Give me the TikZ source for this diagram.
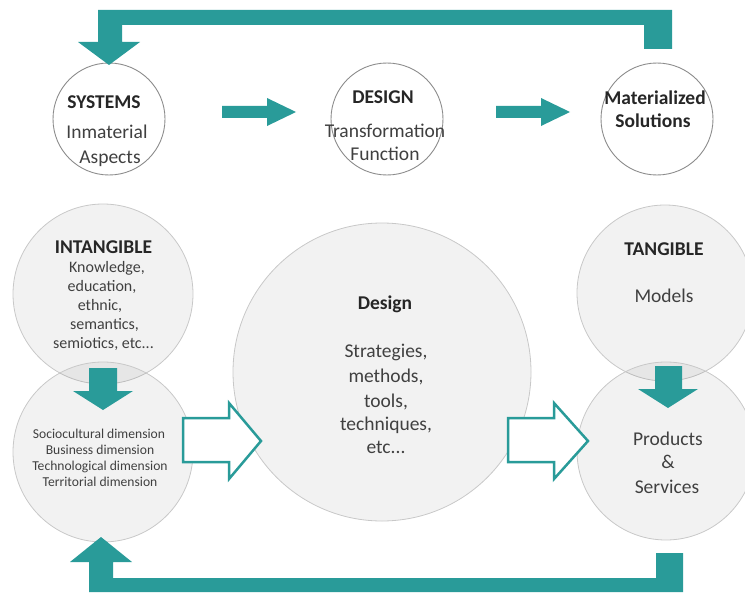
\documentclass[tikz,border=0pt]{standalone}
\usepackage{fontspec}
\setmainfont{Carlito}
\definecolor{teal1}{RGB}{41,155,153}
\definecolor{txtb}{RGB}{38,38,38}
\definecolor{txtr}{RGB}{64,64,64}
\definecolor{topline}{RGB}{140,140,140}
\definecolor{botline}{RGB}{200,200,200}
\begin{document}
\begin{tikzpicture}[x=1pt,y=-1pt,
  topcirc/.style={circle, draw=topline, line width=0.9pt, fill=white, inner sep=0pt, minimum size=112pt},
  botcirc/.style={circle, draw=botline, line width=0.8pt, fill=black, fill opacity=0.05, draw opacity=1, inner sep=0pt},
  bigtxt/.style={font=\fontsize{19.5}{23}\selectfont, text=txtr, anchor=base, inner sep=0pt},
  boldtxt/.style={font=\fontsize{19.5}{23}\selectfont\bfseries, text=txtb, anchor=base, inner sep=0pt},
  listtxt/.style={font=\fontsize{16}{19}\selectfont, text=txtr, anchor=base, inner sep=0pt},
  dimtxt/.style={font=\fontsize{13.6}{16}\selectfont, text=txtr, anchor=base, inner sep=0pt},
  solidarrow/.style={fill=teal1},
  hollowarrow/.style={draw=teal1, line width=2.5pt, fill=white, line join=miter}
]
\useasboundingbox (0,0) rectangle (745,594);
\clip (0,0) rectangle (745,594);

% bottom circles
\node[botcirc, minimum size=180pt] (intang) at (103,294) {};
\node[botcirc, minimum size=180pt] (dims) at (103,452) {};
\node[botcirc, minimum size=298pt] (design) at (382,372) {};
\node[botcirc, minimum size=176pt] (tang) at (665,293) {};
\node[botcirc, minimum size=178pt] (prod) at (666,451) {};

% top circles
\node[topcirc] (sys) at (109,119) {};
\node[topcirc] (des) at (387,119) {};
\node[topcirc] (mat) at (657,119) {};

% feedback arrows
\fill[solidarrow] (644,49) -- (672,49) -- (672,10) -- (98,10) -- (98,42) -- (78,42)
  -- (109,65) -- (140,42) -- (122,42) -- (122,25) -- (644,25) -- cycle;
\fill[solidarrow] (656,553) -- (683,553) -- (683,592) -- (89,592) -- (89,562) -- (70,562)
  -- (101,537) -- (132,562) -- (113,562) -- (113,578) -- (656,578) -- cycle;

% top small arrows
\fill[solidarrow] (222,106) -- (267,106) -- (267,98) -- (296,112) -- (267,126) -- (267,118) -- (222,118) -- cycle;
\fill[solidarrow] (496,106) -- (541,106) -- (541,98) -- (570,112) -- (541,126) -- (541,118) -- (496,118) -- cycle;

% down arrows
\fill[solidarrow] (89,368) -- (117,368) -- (117,391) -- (133,391) -- (103,410) -- (73,391) -- (89,391) -- cycle;
\fill[solidarrow] (655,366) -- (682,366) -- (682,389) -- (698,389) -- (668,408) -- (638,389) -- (655,389) -- cycle;

% hollow arrows
\draw[hollowarrow] (183,418) -- (229,418) -- (229,403) -- (261,441) -- (229,479) -- (229,462) -- (183,462) -- cycle;
\draw[hollowarrow] (508,418) -- (554,418) -- (554,403) -- (588,441) -- (554,479) -- (554,462) -- (508,462) -- cycle;

% top texts
\node[boldtxt] (sysa) at (104,109) {SYSTEMS};
\node[bigtxt] (sysb) at (107,139) {Inmaterial};
\node[bigtxt] (sysc) at (110,163) {Aspects};
\node[boldtxt] (desa) at (383,103) {DESIGN};
\node[bigtxt] (desb) at (385,138) {Transformation};
\node[bigtxt] (desc) at (385,160) {Function};
\node[boldtxt] (mata) at (655,105) {Materialized};
\node[boldtxt] (matb) at (653,128) {Solutions};

% intangible
\node[boldtxt] (inta) at (103.5,253) {INTANGIBLE};
\node[listtxt] (intb) at (107,272) {Knowledge,};
\node[listtxt] (intc) at (102,291) {education,};
\node[listtxt] (intd) at (100,310) {ethnic,};
\node[listtxt] (inte) at (104.5,329) {semantics,};
\node[listtxt] (intf) at (103.5,348) {semiotics, etc...};

% dimensions
\node[dimtxt] (dima) at (99,438) {Sociocultural dimension};
\node[dimtxt] (dimb) at (100,454) {Business dimension};
\node[dimtxt] (dimc) at (100,470) {Technological dimension};
\node[dimtxt] (dimd) at (100,486) {Territorial dimension};

% design
\node[boldtxt] (dsa) at (385,309) {Design};
\node[bigtxt] (dsb) at (386,357) {Strategies,};
\node[bigtxt] (dsc) at (386,382) {methods,};
\node[bigtxt] (dsd) at (386,407) {tools,};
\node[bigtxt] (dse) at (386,430) {techniques,};
\node[bigtxt] (dsf) at (386,453) {etc...};

% tangible
\node[boldtxt] (taa) at (664,255) {TANGIBLE};
\node[bigtxt] (tab) at (664,302) {Models};

% products
\node[bigtxt] (pra) at (668,445) {Products};
\node[bigtxt] (prb) at (668,468) {\&};
\node[bigtxt] (prc) at (667,493) {Services};
\end{tikzpicture}
\end{document}
